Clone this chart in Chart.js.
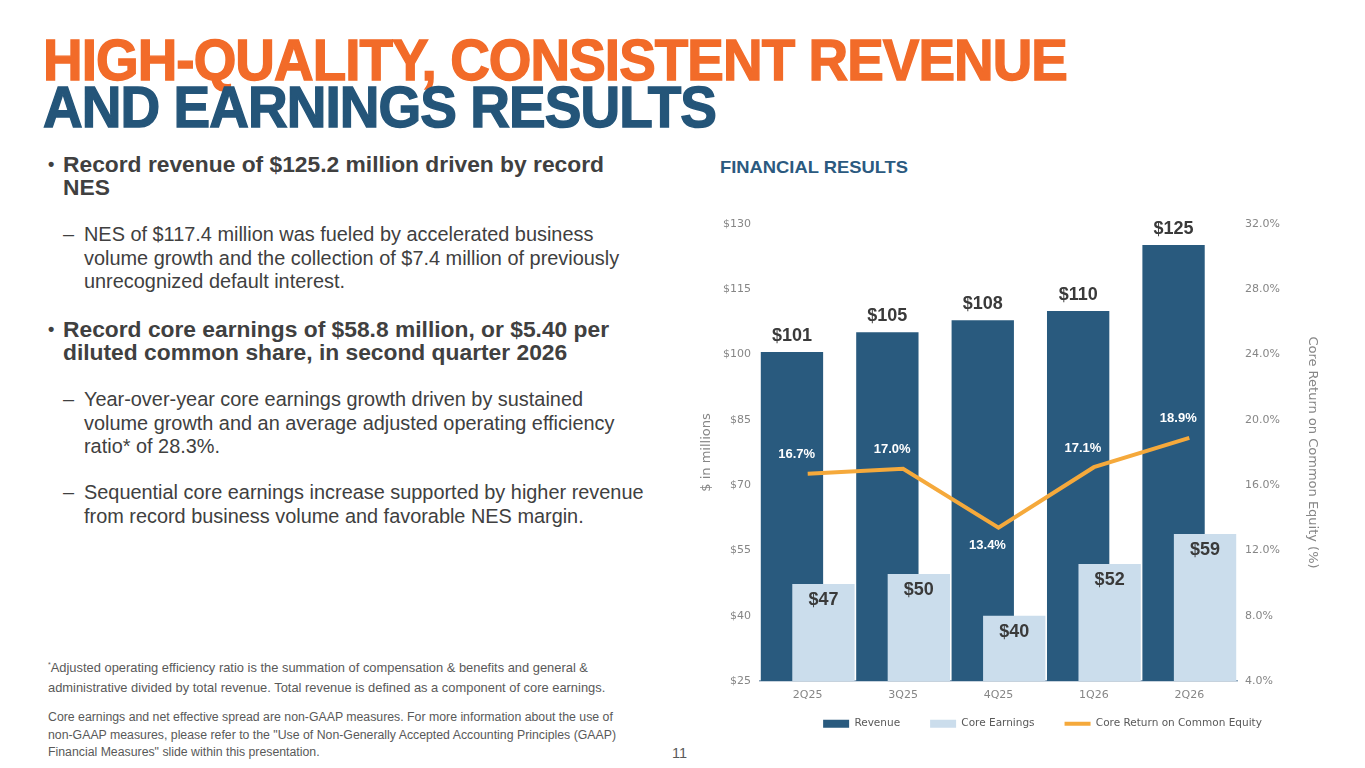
<!DOCTYPE html>
<html>
<head>
<meta charset="utf-8">
<script src="https://cdn.jsdelivr.net/npm/chart.js@4.4.1/dist/chart.umd.min.js"></script>
<style>
body { margin:0; width:1365px; height:768px; background:#fff; position:relative; overflow:hidden; font-family:"Liberation Sans", Arial, sans-serif; color:#404040; }
.t { position:absolute; white-space:nowrap; transform-origin:0 0; }
.title { font-weight:bold; font-size:58px; line-height:58px; letter-spacing:-1px; -webkit-text-stroke:1.4px currentColor; }
.b1 { font-weight:bold; font-size:22.8px; line-height:23px; left:63px; }
.b2 { font-size:19.9px; line-height:23.5px; left:84px; }
.dot { position:absolute; left:-15px; font-size:18px; }
.dash { position:absolute; left:-21px; }
.note { color:#595959; left:48px; }
#wrap { position:absolute; left:695px; top:200px; }
</style>
</head>
<body>
<div class="t title" style="left:43px;top:31px;color:#F26B29" data-w="1024">HIGH-QUALITY, CONSISTENT REVENUE</div>
<div class="t title" style="left:43px;top:78px;color:#245579" data-w="673">AND EARNINGS RESULTS</div>

<div class="t b1" style="top:152.7px"><span class="dot">•</span>Record revenue of $125.2 million driven by record<br>NES</div>
<div class="t b2" style="top:223px"><span class="dash">–</span>NES of $117.4 million was fueled by accelerated business<br>volume growth and the collection of $7.4 million of previously<br>unrecognized default interest.</div>
<div class="t b1" style="top:318px"><span class="dot">•</span>Record core earnings of $58.8 million, or $5.40 per<br>diluted common share, in second quarter 2026</div>
<div class="t b2" style="top:388px"><span class="dash">–</span>Year-over-year core earnings growth driven by sustained<br>volume growth and an average adjusted operating efficiency<br>ratio* of 28.3%.</div>
<div class="t b2" style="top:481px"><span class="dash">–</span>Sequential core earnings increase supported by higher revenue<br>from record business volume and favorable NES margin.</div>

<div class="t note" style="top:655px;font-size:12.9px;line-height:19.5px"><sup style="font-size:7px">*</sup>Adjusted operating efficiency ratio is the summation of compensation &amp; benefits and general &amp;<br>administrative divided by total revenue. Total revenue is defined as a component of core earnings.</div>
<div class="t note" style="top:709px;font-size:12.3px;line-height:17.5px">Core earnings and net effective spread are non-GAAP measures. For more information about the use of<br>non-GAAP measures, please refer to the "Use of Non-Generally Accepted Accounting Principles (GAAP)<br>Financial Measures" slide within this presentation.</div>
<div class="t" style="left:672px;top:745px;font-size:14.5px;color:#595959">11</div>

<div class="t" style="left:720px;top:158px;font-size:17px;font-weight:bold;color:#2B5A80" data-w="188">FINANCIAL RESULTS</div>

<div id="wrap"><canvas id="chart" width="625" height="565"></canvas></div>

<script>
const quarters = ['2Q25', '3Q25', '4Q25', '1Q26', '2Q26'];
const revenue = [100.6, 105.1, 107.9, 110.0, 125.2];
const coreEarnings = [47.3, 49.6, 40.0, 51.9, 58.8];
const coreROE = [16.7, 17.0, 13.4, 17.1, 18.9];
const dollarTicks = [25, 40, 55, 70, 85, 100, 115, 130];
const pctTicks = [4, 8, 12, 16, 20, 24, 28, 32];

// squeeze the headline text to the slide widths
document.querySelectorAll('[data-w]').forEach(function (el) {
    let w = el.getBoundingClientRect().width;
    el.style.transform = 'scaleX(' + (el.dataset.w / w) + ')';
});

const gray = '#868686';
const axisFamily = '"DejaVu Sans", sans-serif';
const tickFont = { family: axisFamily, size: 11 };

// revenue bars behind core earnings bars, line on top, then the value labels
const slidePlugin = {
    id: 'slide',
    afterLayout(chart) {
        // legend sits right under the axis labels, a bit right of centre like the slide
        let dy = chart.chartArea.bottom + 7.5 - chart.legend.top;
        chart.legend.top += dy;
        chart.legend.bottom += dy;
        chart.legend.left += 35;
        chart.legend.right += 35;
    },
    beforeDatasetDraw() {
        return false;
    },
    afterDatasetsDraw(chart) {
        let ctx = chart.ctx;
        let area = chart.chartArea;
        ctx.save();
        ctx.beginPath();
        ctx.rect(area.left, area.top - 20, area.width, area.height + 20);
        ctx.clip();
        [0, 1, 2].forEach(i => chart.getDatasetMeta(i).controller.draw());
        ctx.restore();

        ctx.save();
        ctx.textAlign = 'center';
        ctx.font = 'bold 18px "Liberation Sans", Arial, sans-serif';
        ctx.fillStyle = '#3a3a3a';
        ctx.textBaseline = 'bottom';
        chart.getDatasetMeta(0).data.forEach((bar, i) => {
            ctx.fillText('$' + Math.round(revenue[i]), bar.x, bar.y - 7);
        });
        ctx.textBaseline = 'top';
        chart.getDatasetMeta(1).data.forEach((bar, i) => {
            ctx.fillText('$' + Math.round(coreEarnings[i]), bar.x, bar.y + 7);
        });
        ctx.font = 'bold 13px "Liberation Sans", Arial, sans-serif';
        ctx.fillStyle = '#ffffff';
        ctx.textBaseline = 'middle';
        chart.getDatasetMeta(2).data.forEach((pt, i) => {
            let low = (i > 0 && coreROE[i] < coreROE[i - 1]) && (i < coreROE.length - 1 && coreROE[i] < coreROE[i + 1]);
            ctx.fillText(coreROE[i].toFixed(1) + '%', pt.x - 11, low ? pt.y + 18 : pt.y - 19);
        });
        ctx.restore();
    }
};

new Chart(document.getElementById('chart'), {
    type: 'bar',
    data: {
        labels: quarters,
        datasets: [{
            label: 'Revenue',
            data: revenue,
            backgroundColor: '#295A7E',
            yAxisID: 'y',
            pointStyle: 'rect',
            categoryPercentage: 0.66,
            barPercentage: 1.98
        }, {
            label: 'Core Earnings',
            data: coreEarnings,
            backgroundColor: '#CBDDEC',
            yAxisID: 'y',
            pointStyle: 'rect',
            categoryPercentage: 0.66,
            barPercentage: 1.98
        }, {
            type: 'line',
            label: 'Core Return on Common Equity',
            data: coreROE,
            borderColor: '#F5A93B',
            backgroundColor: '#F5A93B',
            borderWidth: 4,
            pointRadius: 0,
            pointStyle: 'line',
            tension: 0,
            yAxisID: 'y1'
        }]
    },
    options: {
        responsive: false,
        animation: false,
        layout: { padding: { top: 24, bottom: 5.5, left: 0, right: 0 } },
        plugins: {
            tooltip: { enabled: false },
            legend: {
                position: 'bottom',
                labels: {
                    usePointStyle: true,
                    pointStyleWidth: 26,
                    boxWidth: 26,
                    boxHeight: 8,
                    padding: 30,
                    color: '#595959',
                    font: { family: axisFamily, size: 10.5 }
                }
            }
        },
        scales: {
            x: {
                grid: { display: false, drawTicks: false },
                border: { display: true, color: '#8DA5BB', width: 1.5 },
                ticks: { color: gray, font: tickFont, padding: 8 },
                afterFit(s) { s.height = 28; }
            },
            y: {
                position: 'left',
                min: 25,
                max: 130,
                afterBuildTicks(s) { s.ticks = dollarTicks.map(v => ({ value: v })); },
                grid: { display: false, drawTicks: false },
                border: { display: false },
                ticks: { color: gray, font: tickFont, padding: 9, callback: v => '$' + v },
                title: { display: true, text: '$ in millions', color: gray, font: { family: axisFamily, size: 13 }, padding: { top: 4, bottom: 0 } },
                afterFit(s) { s.width = 65; }
            },
            y1: {
                position: 'right',
                min: 4,
                max: 32,
                afterBuildTicks(s) { s.ticks = pctTicks.map(v => ({ value: v })); },
                grid: { display: false, drawTicks: false },
                border: { display: false },
                ticks: { color: gray, font: tickFont, padding: 8, callback: v => v.toFixed(1) + '%' },
                title: { display: true, text: 'Core Return on Common Equity (%)', color: gray, font: { family: axisFamily, size: 13 }, padding: { top: 0, bottom: 0 } },
                afterFit(s) { s.width = 83; }
            }
        }
    },
    plugins: [slidePlugin]
});
</script>
</body>
</html>
